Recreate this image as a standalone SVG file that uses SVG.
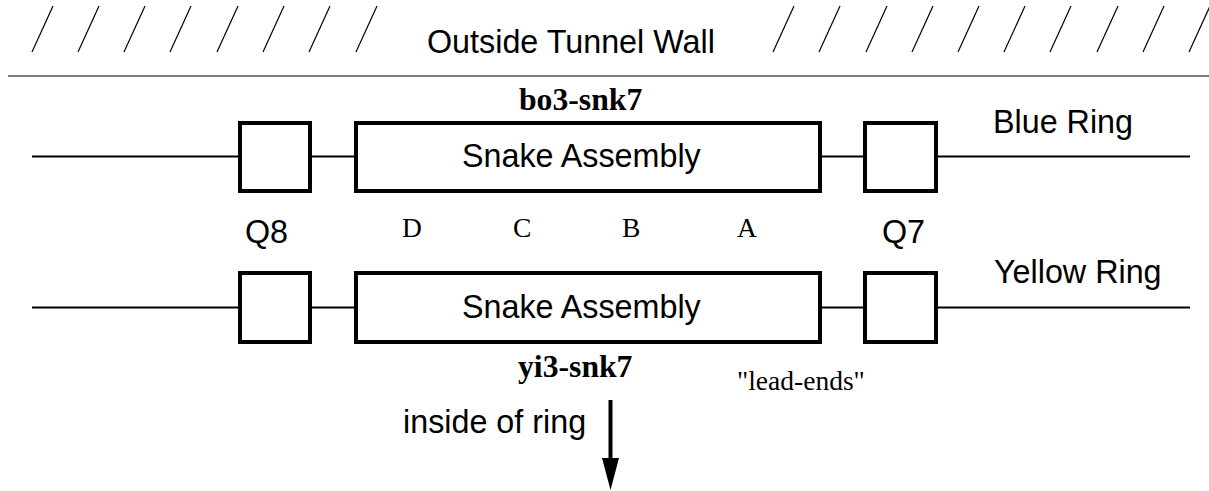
<svg xmlns="http://www.w3.org/2000/svg" width="1209" height="491" viewBox="0 0 1209 491">
<style>
.sans{font-family:"Liberation Sans",Arial,sans-serif;font-size:32.3px;fill:#000}
.serif{font-family:"Liberation Serif","Times New Roman",serif;fill:#000}
.lbl{font-size:27.5px}
.bold{font-size:31.7px;font-weight:bold}
.box{fill:#fff;stroke:#000;stroke-width:4}
.ring{stroke:#000;stroke-width:2;fill:none}
.hatch{stroke:#000;stroke-width:1.2}
</style>
<rect width="1209" height="491" fill="#fff"/>
<g id="wall">
<g class="hatch">
<line x1="32" y1="52" x2="53" y2="6"/>
<line x1="78" y1="52" x2="99" y2="6"/>
<line x1="124" y1="52" x2="145" y2="6"/>
<line x1="170" y1="52" x2="191" y2="6"/>
<line x1="217" y1="52" x2="238" y2="6"/>
<line x1="263" y1="52" x2="284" y2="6"/>
<line x1="309" y1="52" x2="330" y2="6"/>
<line x1="356" y1="52" x2="377" y2="6"/>
<line x1="773" y1="52" x2="794" y2="6"/>
<line x1="819" y1="52" x2="840" y2="6"/>
<line x1="866" y1="52" x2="887" y2="6"/>
<line x1="912" y1="52" x2="933" y2="6"/>
<line x1="958" y1="52" x2="979" y2="6"/>
<line x1="1004" y1="52" x2="1025" y2="6"/>
<line x1="1050" y1="52" x2="1071" y2="6"/>
<line x1="1097" y1="52" x2="1118" y2="6"/>
<line x1="1143" y1="52" x2="1164" y2="6"/>
<line x1="1189" y1="52" x2="1210" y2="6"/>
</g>
<line x1="8" y1="76" x2="1209" y2="76" stroke="#555" stroke-width="1.6"/>
<text class="sans" x="427" y="53">Outside Tunnel Wall</text>
</g>
<g id="connectors" class="ring">
<line x1="32" y1="156.5" x2="240" y2="156.5"/>
<line x1="310" y1="156.5" x2="356" y2="156.5"/>
<line x1="820" y1="156.5" x2="865" y2="156.5"/>
<line x1="936" y1="156.5" x2="1190" y2="156.5"/>
<line x1="32" y1="307.5" x2="240" y2="307.5"/>
<line x1="310" y1="307.5" x2="356" y2="307.5"/>
<line x1="820" y1="307.5" x2="865" y2="307.5"/>
<line x1="936" y1="307.5" x2="1190" y2="307.5"/>
</g>
<g id="q8-blue"><rect class="box" x="240" y="123" width="70" height="68"/></g>
<g id="snake-blue"><rect class="box" x="356" y="123" width="464" height="68"/><text class="sans" x="462" y="167">Snake Assembly</text></g>
<g id="q7-blue"><rect class="box" x="865" y="123" width="71" height="68"/></g>
<g id="q8-yellow"><rect class="box" x="240" y="273" width="70" height="69"/></g>
<g id="snake-yellow"><rect class="box" x="356" y="273" width="464" height="69"/><text class="sans" x="462" y="318">Snake Assembly</text></g>
<g id="q7-yellow"><rect class="box" x="865" y="273" width="71" height="69"/></g>
<g id="labels">
<text class="serif bold" x="519" y="110">bo3-snk7</text>
<text class="sans" x="993" y="133">Blue Ring</text>
<text class="sans" x="245" y="243">Q8</text>
<text class="sans" x="882" y="243">Q7</text>
<text class="serif lbl" x="402" y="237">D</text>
<text class="serif lbl" x="513" y="237">C</text>
<text class="serif lbl" x="622" y="237">B</text>
<text class="serif lbl" x="737" y="237">A</text>
<text class="sans" x="994" y="283">Yellow Ring</text>
<text class="serif bold" x="518" y="377">yi3-snk7</text>
<text class="serif lbl" x="737" y="390">"lead-ends"</text>
<text class="sans" x="403" y="433">inside of ring</text>
</g>
<g id="arrow">
<line x1="610.5" y1="400" x2="610.5" y2="462" stroke="#000" stroke-width="4"/>
<polygon points="602,458 619,458 610.5,490" fill="#000"/>
</g>
</svg>
